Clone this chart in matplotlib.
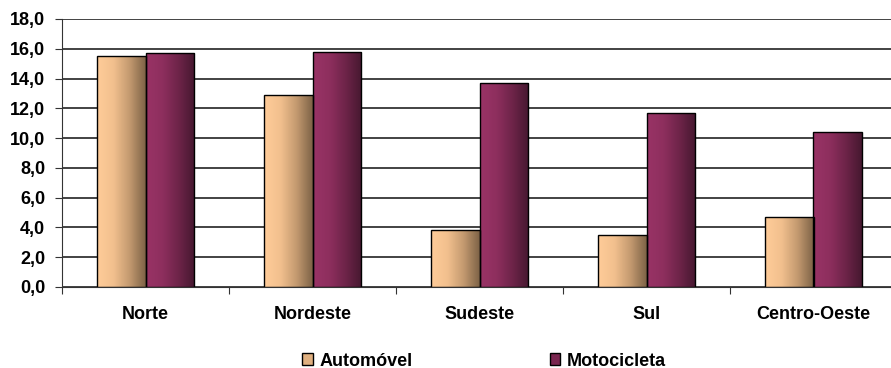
import matplotlib
matplotlib.use("Agg")
import matplotlib.pyplot as plt
import matplotlib.ticker as tkr
from matplotlib.colors import LinearSegmentedColormap
from matplotlib.patches import Patch
import numpy as np

regions = ["Norte", "Nordeste", "Sudeste", "Sul", "Centro-Oeste"]
automovel = [15.5, 12.9, 3.8, 3.5, 4.7]
motocicleta = [15.7, 15.8, 13.7, 11.7, 10.4]
series_names = ["Automóvel", "Motocicleta"]

plt.rcParams['font.family'] = ['Liberation Sans', 'DejaVu Sans']
plt.rcParams['font.weight'] = 'bold'

auto_cmap = LinearSegmentedColormap.from_list("auto", ["#FFCC99", "#F2C08E", "#C49A70", "#7E6347"])
moto_cmap = LinearSegmentedColormap.from_list("moto", ["#993366", "#8E2F5E", "#6E2449", "#461830"])

fig = plt.figure(figsize=(8.91, 3.68), dpi=100)
ax = fig.add_axes([62 / 891, 81 / 368, 835 / 891, 268 / 368])

x = np.arange(len(regions))
w = 0.29
grad = np.linspace(0, 1, 64).reshape(1, -1)

def gradient_bars(xs, vals, cmap):
  bars = ax.bar(xs, vals, w, facecolor="none", edgecolor="black", linewidth=1.0, zorder=3)
  for b in bars:
    x0, y0 = b.get_x(), b.get_y()
    im = ax.imshow(grad, cmap=cmap, aspect="auto", extent=[x0, x0 + b.get_width(), y0, y0 + b.get_height()],
                   zorder=2, interpolation="bicubic")
    im.set_clip_path(b)
  return bars

gradient_bars(x - w / 2, automovel, auto_cmap)
gradient_bars(x + w / 2, motocicleta, moto_cmap)

ax.set_xlim(-0.5, len(regions) - 0.5)
ax.set_ylim(0, 18)
ax.yaxis.set_major_locator(tkr.MultipleLocator(2))
ax.yaxis.set_major_formatter(tkr.FuncFormatter(lambda v, p: "{:.1f}".format(v).replace(".", ",")))
ax.grid(axis="y", color="#222222", linewidth=1.2, zorder=1)
ax.set_axisbelow(True)

ax.set_xticks(np.arange(len(regions) + 1) - 0.5)
ax.set_xticklabels([])
ax.set_xticks(x, minor=True)
ax.set_xticklabels(regions, minor=True, fontsize=13, fontweight="bold")
ax.tick_params(axis="x", which="minor", length=0, pad=14)
ax.tick_params(axis="x", which="major", length=5, color="#333333")
ax.tick_params(axis="y", length=5, color="#333333", labelsize=13, pad=7)
for lab in ax.get_yticklabels():
  lab.set_fontweight("bold")

for s in ["top", "right"]:
  ax.spines[s].set_visible(False)
ax.spines["left"].set_color("#333333")
ax.spines["bottom"].set_color("#333333")

handles = [Patch(facecolor="#E0B080", edgecolor="black", linewidth=1.0),
           Patch(facecolor="#7A2650", edgecolor="black", linewidth=1.0)]
fig.legend(handles, series_names, loc="center", bbox_to_anchor=(484 / 891, 1 - 361 / 368), ncol=2,
           frameon=False, prop={"weight": "bold", "size": 13}, handlelength=0.6, handleheight=0.6,
           handletextpad=0.35, columnspacing=7.6)

fig.savefig("out.png", dpi=100)
